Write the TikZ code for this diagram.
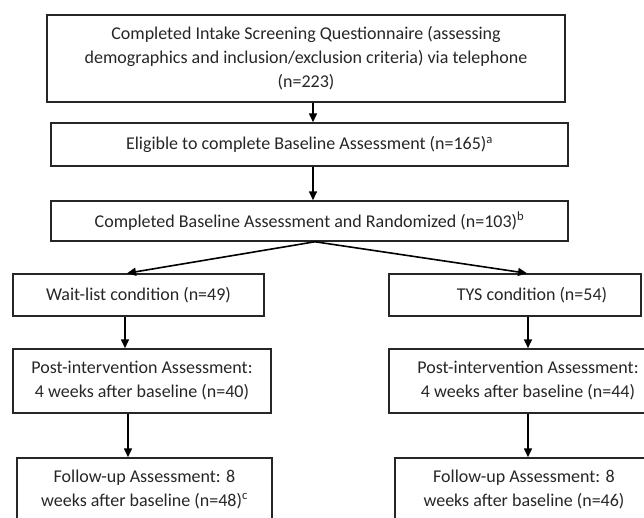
\documentclass[tikz,border=0pt]{standalone}
\usepackage{fontspec}
\setmainfont{Carlito}
\usetikzlibrary{arrows.meta}
\begin{document}
\begin{tikzpicture}[x=1pt,y=-1pt,
  box/.style={draw=black!85,line width=1.5pt,align=center,inner sep=0pt,
    font=\fontsize{18}{24}\selectfont,text=black!85},
  conn/.style={draw=black,line width=1.6pt,-{Triangle[length=9pt,width=8pt]}}]
\useasboundingbox (0,0) rectangle (644,517);
\clip (0,0) rectangle (644,517);
% top chain
\node[box,minimum width=518pt,minimum height=87pt] (intake) at (306,58.5)
  {Completed Intake Screening Questionnaire (assessing\\demographics and inclusion/exclusion criteria) via telephone\\(n=223)};
\node[box,minimum width=517pt,minimum height=43pt] (elig) at (309.5,144.5)
  {Eligible to complete Baseline Assessment (n=165)\textsuperscript{a}};
\node[box,minimum width=517pt,minimum height=40pt] (rand) at (309.5,221)
  {Completed Baseline Assessment and Randomized (n=103)\textsuperscript{b}};
% left branch
\node[box,minimum width=251pt,minimum height=42pt] (wait) at (138.5,295)
  {Wait-list condition (n=49)};
\node[box,minimum width=258pt,minimum height=64pt] (postL) at (142,381)
  {Post-intervention Assessment:\\4 weeks after baseline (n=40)};
\node[box,minimum width=255pt,minimum height=62pt] (folL) at (144.5,489)
  {Follow-up Assessment: 8\\weeks after baseline (n=48)\textsuperscript{c}};
% right branch
\node[box,minimum width=252pt,minimum height=42pt] (tys) at (515,295)
  {\hspace*{34pt}TYS condition (n=54)};
\node[box,minimum width=278pt,minimum height=64pt] (postR) at (528,381)
  {Post-intervention Assessment:\\4 weeks after baseline (n=44)};
\node[box,minimum width=272pt,minimum height=62pt] (folR) at (531,489)
  {\hspace*{-14pt}Follow-up Assessment: 8\\\hspace*{-14pt}weeks after baseline (n=46)};
% connectors
\draw[conn] (intake.south -| 313,0) -- (elig.north -| 313,0);
\draw[conn] (elig.south -| 313,0) -- (rand.north -| 313,0);
\coordinate (split) at (rand.south -| 315,0);
\draw[conn] (split) -- (wait.north -| 127,0);
\draw[conn] (split) -- (tys.north -| 527,0);
\draw[conn] (wait.south -| 125,0) -- (postL.north -| 125,0);
\draw[conn] (postL.south -| 128,0) -- (folL.north -| 128,0);
\draw[conn] (tys.south -| 528,0) -- (postR.north -| 528,0);
\draw[conn] (postR.south -| 528,0) -- (folR.north -| 528,0);
\end{tikzpicture}
\end{document}
